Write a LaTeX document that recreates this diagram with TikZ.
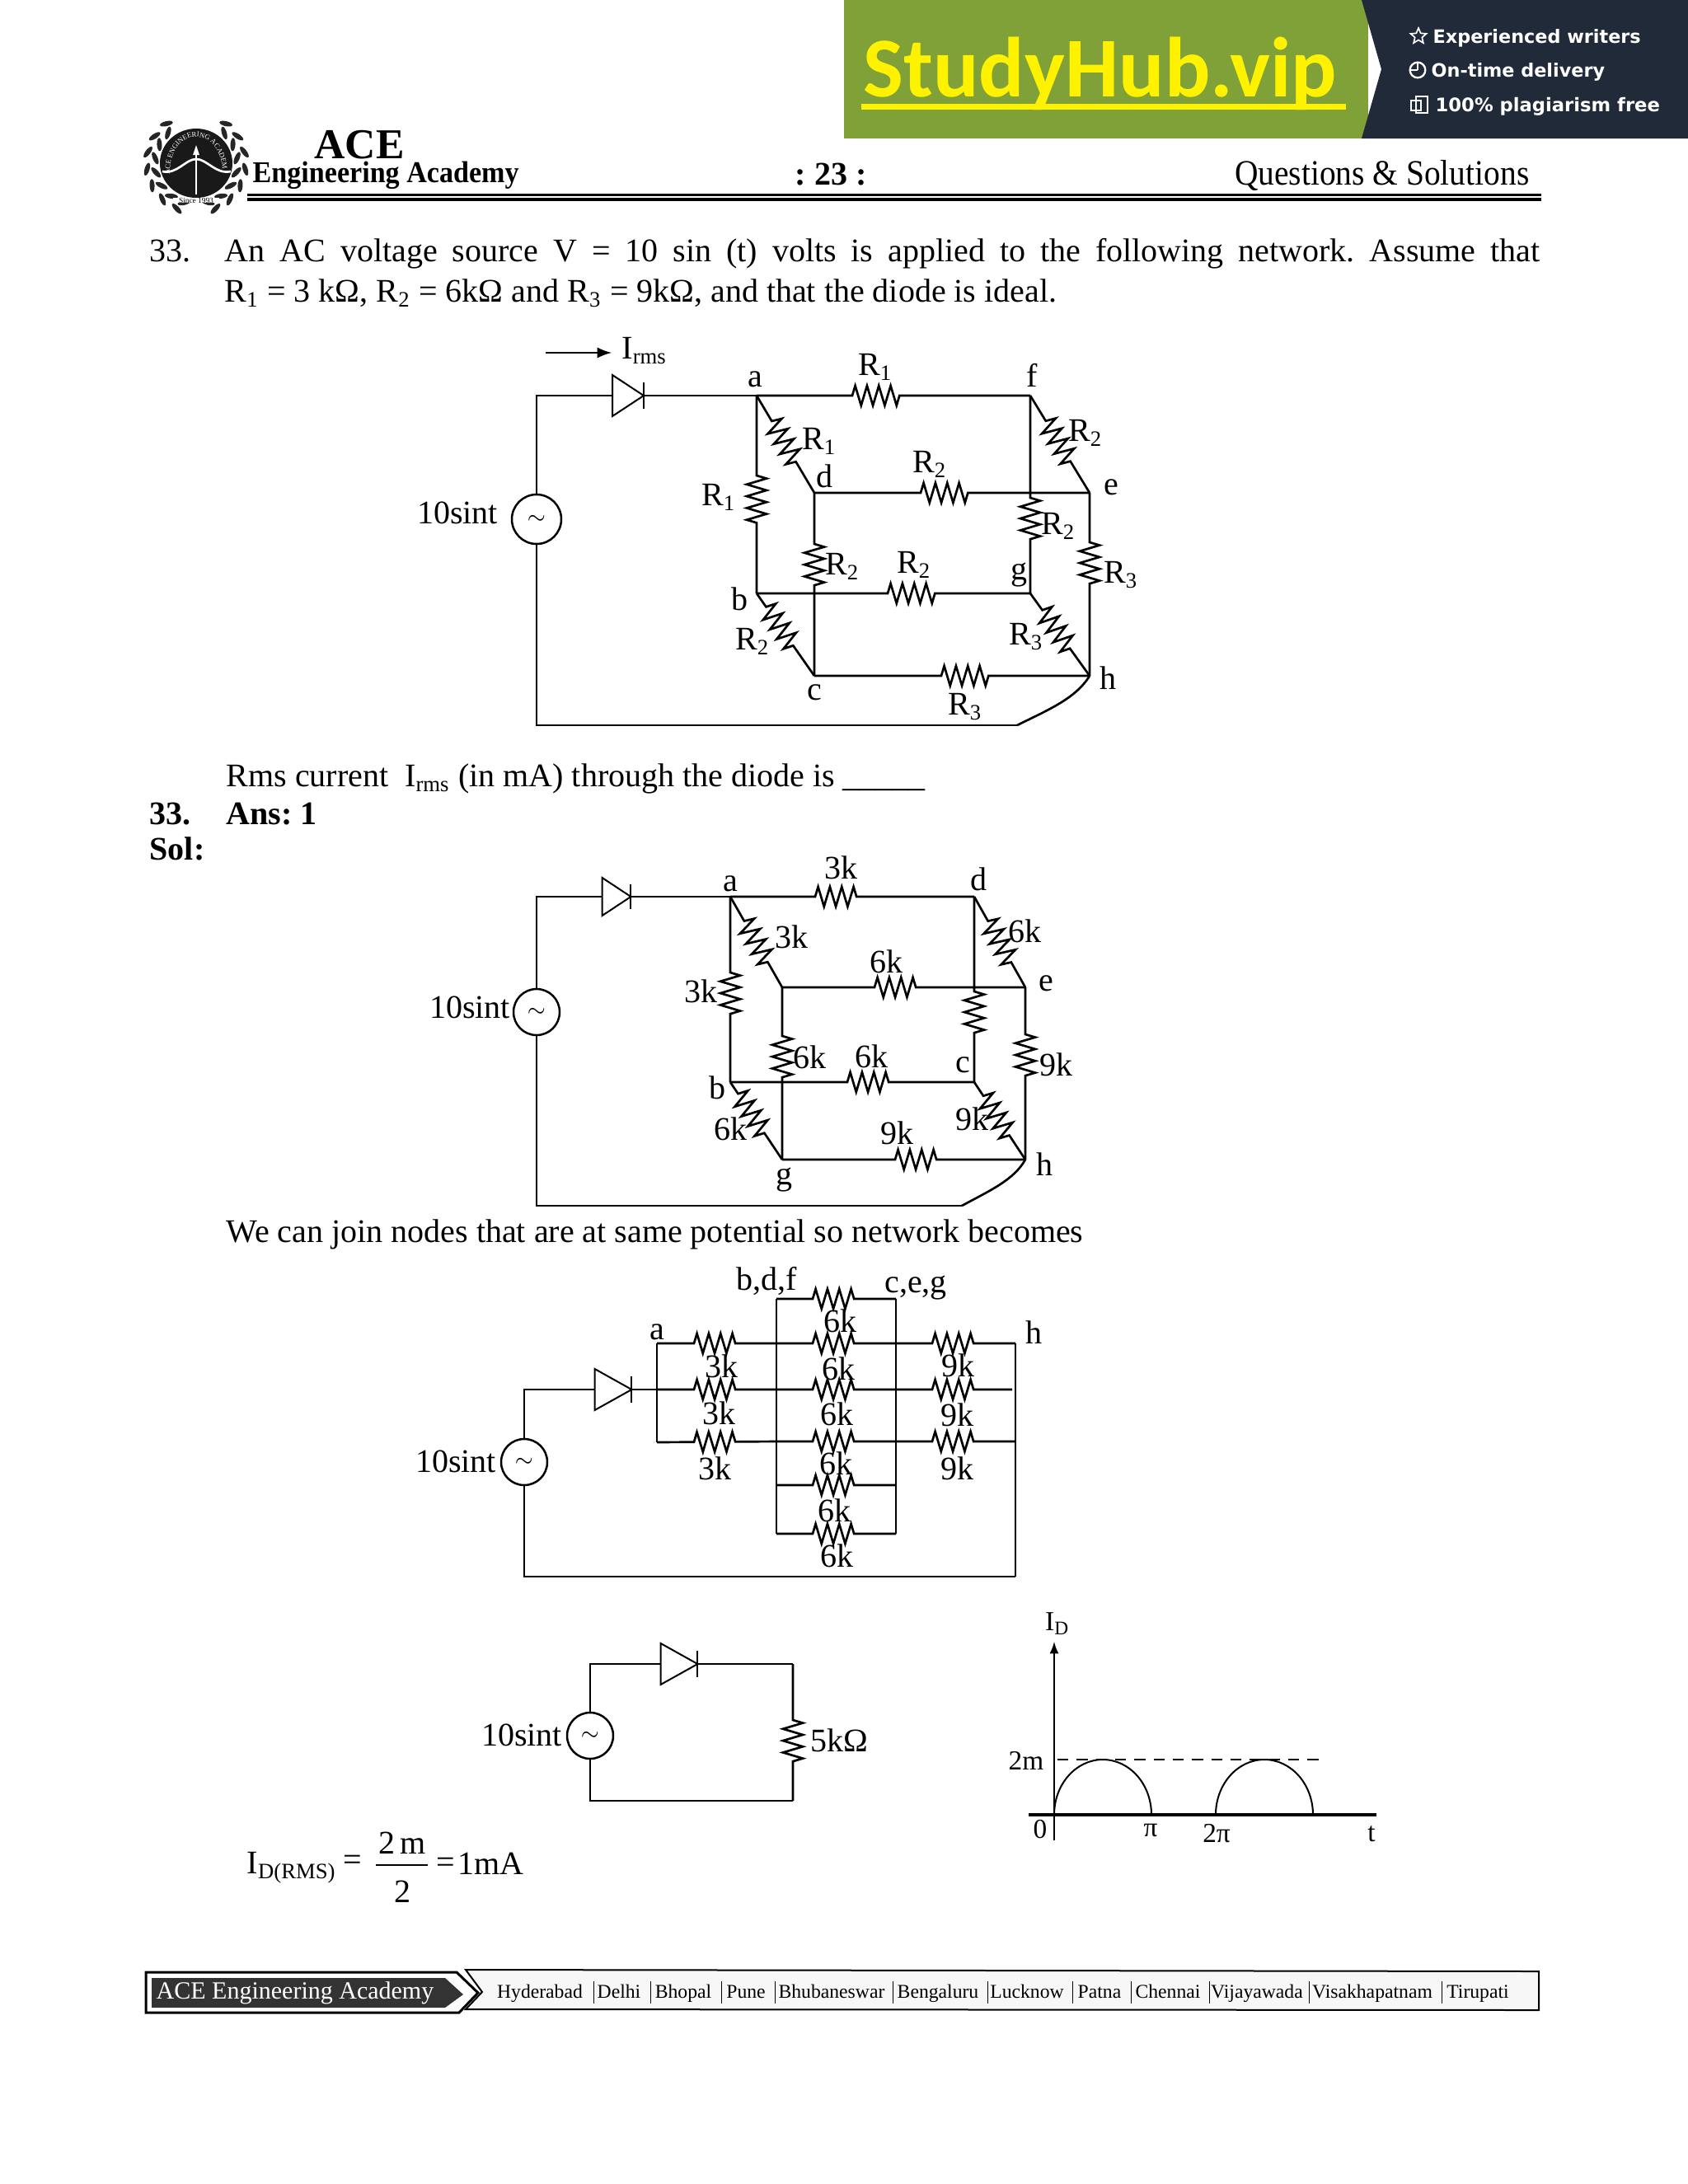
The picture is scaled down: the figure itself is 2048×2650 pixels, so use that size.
\documentclass[tikz,border=0pt]{standalone}
\usepackage{fontspec}
\usepackage{graphicx}
\setmainfont{Liberation Serif}
\newfontfamily\bannerfont{Carlito}
\newfontfamily\sidefont{DejaVu Sans}
\usetikzlibrary{calc,shapes.geometric,decorations.pathmorphing,decorations.text}
\newcommand{\fs}[1]{\fontsize{#1}{#1}\selectfont}
\newcommand{\tld}{\raisebox{-1pt}{\fs{8}$\sim$}}
\definecolor{bannergreen}{RGB}{128,160,56}
\definecolor{bannerdark}{RGB}{33,42,57}
\definecolor{footdark}{RGB}{51,51,51}
\tikzset{
    every node/.style={font=\fs{12}, inner sep=0pt},
    wire/.style={line width=0.8pt},
    res/.style 2 args={wire, decorate, decoration={zigzag, segment length=4.3pt, amplitude=3.6pt, pre length=#1*0.3pt, post length=#2*0.3pt}},
    src/.style={circle, draw, line width=0.75pt, fill=white, minimum size=16.8pt},
    diode/.pic={
        \draw[line width=0.6pt, fill=white] (-20,-25) -- (20,0) -- (-20,25) -- cycle;
        \draw[line width=0.6pt] (20,-16) -- (20,16);
    },
}
\begin{document}
\frenchspacing
\begin{tikzpicture}[x=0.3pt, y=-0.3pt]
    \useasboundingbox (0,0) rectangle (2048,2650);
    \fill[white] (0,0) rectangle (2048,2650);
    % banner
    \fill[bannergreen] (1024,0) rectangle (1660,168);
    \fill[bannerdark] (1652,0) -- (2048,0) -- (2048,168) -- (1652,168) -- (1676,84) -- cycle;
    \node[font=\bannerfont\bfseries\fs{31}, text=yellow, anchor=base west] (study) at (1047,117) {StudyHub.vip};
    \fill[yellow] (1045,126) rectangle (1633,133);
    \node[font=\sidefont\bfseries\fs{6.7}, text=white, anchor=base west] (side1) at (1738,52) {Experienced writers};
    \node[font=\sidefont\bfseries\fs{6.7}, text=white, anchor=base west] (side2) at (1736,93) {On-time delivery};
    \node[font=\sidefont\bfseries\fs{6.8}, text=white, anchor=base west] (side3) at (1741,135) {100\% plagiarism free};
    \node[star, star points=5, star point ratio=2.2, draw=white, line width=0.5pt, minimum size=6pt] (icon1) at (1721,44) {};
    \node[circle, draw=white, line width=0.7pt, minimum size=5.6pt] (icon2) at (1720,85) {};
    \draw[white, line width=0.4pt] (icon2.center) -- (icon2.north);
    \draw[white, line width=0.4pt] (icon2.center) -- (icon2.west);
    \draw[white, line width=0.5pt] (1712,122) rectangle (1724,134);
    \draw[white, line width=0.5pt] (1718,117) rectangle (1732,137);
    % logo
    \begin{scope}[shift={(238,198)}]
        \foreach \t in {107,127,...,227} {
            \fill[black!85, shift={(\t:50)}, rotate=90-\t+30] (0,0) ellipse (8 and 3);
            \fill[black!85, shift={(\t+6:60)}, rotate=90-\t-30] (0,0) ellipse (8 and 3);
            \fill[black!85, shift={(180-\t:50)}, rotate=\t-90-30] (0,0) ellipse (8 and 3);
            \fill[black!85, shift={(174-\t:60)}, rotate=\t-90+30] (0,0) ellipse (8 and 3);
        }
    \end{scope}
    \fill[black!90] (238,198) ellipse (44 and 42);
    \draw[white, line width=0.8pt] (197,208) .. controls (215,212) and (225,193) .. (238,193) .. controls (251,193) and (262,212) .. (280,208);
    \draw[white, line width=0.8pt] (238,180) -- (238,236);
    \fill[white] (238,176) -- (242,188) -- (234,188) -- cycle;
    \path[decorate, decoration={text along path, text color=white, text align=center, text={|\fs{2.6}|ACE ENGINEERING ACADEMY}}] (206,208) .. controls (208,152) and (268,152) .. (270,208);
    \node[font=\fs{2.8}, fill=white, inner xsep=2pt] (since) at (238,243) {Since 1993};
    % header
    \node[font=\bfseries\fs{15.5}] (ace) at (436,176) {ACE};
    \node[font=\bfseries\fs{11}, anchor=west] (eng) at (306,213) {\scalebox{0.93}[1]{Engineering Academy}};
    \node[font=\bfseries\fs{12}] (page) at (1008,212) {: 23 :};
    \node[font=\fs{13}, anchor=east] (qs) at (1856,213) {\scalebox{0.91}[1]{Questions \& Solutions}};
    \fill (300,235) rectangle (1870,238);
    \fill (300,240) rectangle (1870,244);
    % question
    \node[anchor=base west] (qno) at (181,317) {33.};
    \node[anchor=base west] (qa) at (272,317) {\makebox[478.8pt][s]{An AC voltage source V = 10 sin (t) volts is applied to the following network. Assume that}};
    \node[anchor=base west] (qb) at (272,366) {R\textsubscript{1} = 3 kΩ, R\textsubscript{2} = 6kΩ and R\textsubscript{3} = 9kΩ, and that the diode is ideal.};
    % first network
    \coordinate (a1) at (918,480);
    \coordinate (f1) at (1250,480);
    \coordinate (b1) at (918,720);
    \coordinate (d1) at (988,598);
    \coordinate (e1) at (1322,598);
    \coordinate (g1) at (1250,720);
    \coordinate (c1) at (988,820);
    \coordinate (h1) at (1322,820);
    \coordinate (dl1) at (743,480);
    \coordinate (dr1) at (781,480);
    \coordinate (br1) at (1234,880);
    \node[src, minimum size=18pt] (s1) at (651,630) {\tld};
    \draw[wire] (s1.north) |- (dl1);
    \draw[wire] (s1.south) |- (br1);
    \draw[wire] (br1) .. controls (1270,862) and (1305,848) .. (h1);
    \draw[wire] (dr1) -- (a1);
    \pic[xscale=0.95] at (762,480) {diode};
    \draw[res={116}{158}] (a1) -- (f1);
    \draw[res={97}{85}] (a1) -- (b1);
    \draw[res={36}{38}] (a1) -- (d1);
    \draw[res={129}{147}] (d1) -- (e1);
    \draw[res={36}{38}] (f1) -- (e1);
    \draw[res={124}{60}] (f1) -- (g1);
    \draw[res={62}{103}] (d1) -- (c1);
    \draw[res={159}{110}] (b1) -- (g1);
    \draw[res={20}{39}] (b1) -- (c1);
    \draw[res={25}{37}] (g1) -- (h1);
    \draw[res={60}{105}] (e1) -- (h1);
    \draw[res={154}{120}] (c1) -- (h1);
    \coordinate (ia1) at (662,428);
    \coordinate (ia2) at (742,428);
    \draw[wire, -latex] (ia1) -- (ia2);
    \node (irms) at (782,426) {I\textsubscript{rms}};
    \node (v1) at (555,622) {10sint};
    \node (la1) at (916,460) {a};
    \node (lf1) at (1252,455) {f};
    \node (ld1) at (1000,578) {d};
    \node (le1) at (1348,591) {e};
    \node (lg1) at (1236,698) {g};
    \node (lb1) at (897,727) {b};
    \node (lh1) at (1344,823) {h};
    \node (lc1) at (988,840) {c};
    \node (r11) at (1062,445) {R\textsubscript{1}};
    \node (r12) at (994,535) {R\textsubscript{1}};
    \node (r13) at (872,603) {R\textsubscript{1}};
    \node (r21) at (1317,525) {R\textsubscript{2}};
    \node (r22) at (1128,563) {R\textsubscript{2}};
    \node (r23) at (1284,638) {R\textsubscript{2}};
    \node (r24) at (1022,687) {R\textsubscript{2}};
    \node (r25) at (1109,685) {R\textsubscript{2}};
    \node (r26) at (913,778) {R\textsubscript{2}};
    \node (r31) at (1360,698) {R\textsubscript{3}};
    \node (r32) at (1245,773) {R\textsubscript{3}};
    \node (r33) at (1171,858) {R\textsubscript{3}};
    % answer
    \node[anchor=base west] (rq) at (274,954) {Rms current\ \ I\textsubscript{rms} (in mA) through the diode is \_\_\_\_\_};
    \node[anchor=base west, font=\bfseries\fs{12}] (ano) at (181,1000) {33.};
    \node[anchor=base west, font=\bfseries\fs{12}] (ans) at (274,1000) {Ans: 1};
    \node[anchor=base west, font=\bfseries\fs{12}] (sol) at (181,1043) {Sol:};
    % second network
    \coordinate (a2) at (886,1088);
    \coordinate (d2) at (1182,1088);
    \coordinate (b2) at (886,1313);
    \coordinate (m2) at (949,1198);
    \coordinate (e2) at (1244,1198);
    \coordinate (c2) at (1182,1313);
    \coordinate (g2) at (949,1407);
    \coordinate (h2) at (1244,1407);
    \coordinate (dl2) at (731,1088);
    \coordinate (dr2) at (766,1088);
    \coordinate (br2) at (1167,1463);
    \node[src] (s2) at (651,1228) {\tld};
    \draw[wire] (s2.north) |- (dl2);
    \draw[wire] (s2.south) |- (br2);
    \draw[wire] (br2) .. controls (1200,1445) and (1230,1432) .. (h2);
    \draw[wire] (dr2) -- (a2);
    \pic[xscale=0.87, yscale=0.92] at (748,1088) {diode};
    \draw[res={103}{140}] (a2) -- (d2);
    \draw[res={92}{80}] (a2) -- (b2);
    \draw[res={34}{35}] (a2) -- (m2);
    \draw[res={112}{129}] (m2) -- (e2);
    \draw[res={34}{34}] (d2) -- (e2);
    \draw[res={115}{56}] (d2) -- (c2);
    \draw[res={59}{98}] (m2) -- (g2);
    \draw[res={142}{101}] (b2) -- (c2);
    \draw[res={17}{35}] (b2) -- (g2);
    \draw[res={20}{32}] (c2) -- (h2);
    \draw[res={57}{99}] (e2) -- (h2);
    \draw[res={137}{106}] (g2) -- (h2);
    \node (v2) at (570,1222) {10sint};
    \node (la2) at (886,1072) {a};
    \node (ld2) at (1187,1067) {d};
    \node (le2) at (1269,1193) {e};
    \node (lc2) at (1168,1292) {c};
    \node (lb2) at (870,1320) {b};
    \node (lh2) at (1267,1413) {h};
    \node (lg2) at (951,1432) {g};
    \node (k11) at (1020,1053) {3k};
    \node (k12) at (960,1137) {3k};
    \node (k13) at (850,1203) {3k};
    \node (k21) at (1243,1130) {6k};
    \node (k22) at (1075,1167) {6k};
    \node (k23) at (982,1283) {6k};
    \node (k24) at (1057,1282) {6k};
    \node (k25) at (886,1370) {6k};
    \node (k31) at (1281,1292) {9k};
    \node (k32) at (1179,1358) {9k};
    \node (k33) at (1088,1375) {9k};
    \node[anchor=base west] (join) at (274,1507) {We can join nodes that are at same potential so network becomes};
    % third network
    \coordinate (a3t) at (797,1630);
    \coordinate (a3m) at (797,1686);
    \coordinate (a3b) at (797,1750);
    \foreach \i/\y in {0/1576,1/1630,2/1686,3/1749,4/1802,5/1861} {
        \coordinate (l\i) at (942,\y);
        \coordinate (r\i) at (1087,\y);
        \draw[res={44}{47}] (l\i) -- (r\i);
    }
    \coordinate (h3t) at (1232,1630);
    \coordinate (h3m) at (1228,1686);
    \coordinate (h3b) at (1232,1749);
    \coordinate (br3) at (1232,1913);
    \coordinate (dl3) at (721,1686);
    \coordinate (dr3) at (766,1686);
    \node[src] (s3) at (636,1774) {\tld};
    \draw[wire] (s3.north) |- (dl3);
    \draw[wire] (s3.south) |- (br3);
    \draw[wire] (dr3) -- (a3m);
    \pic[xscale=1.12] at (744,1686) {diode};
    \draw[wire] (a3t) -- (a3b);
    \draw[wire] (l0) -- (l5);
    \draw[wire] (r0) -- (r5);
    \draw[wire] (h3t) -- (br3);
    \draw[res={45}{46}] (a3t) -- (l1);
    \draw[res={45}{46}] (a3m) -- (l2);
    \draw[res={45}{46}] (a3b) -- (l3);
    \draw[res={44}{49}] (r1) -- (h3t);
    \draw[res={44}{45}] (r2) -- (h3m);
    \draw[res={44}{49}] (r3) -- (h3b);
    \node (v3) at (553,1773) {10sint};
    \node (la3) at (797,1616) {a};
    \node (lbdf) at (930,1554) {b,d,f};
    \node (lceg) at (1111,1563) {c,e,g};
    \node (lh3) at (1254,1617) {h};
    \foreach \x/\y/\t [count=\i] in {875/1658/3k,872/1715/3k,867/1782/3k,1019/1603/6k,1017/1661/6k,1015/1716/6k,1014/1776/6k,1012/1833/6k,1015/1888/6k,1162/1657/9k,1161/1717/9k,1161/1782/9k} {
        \node (t\i) at (\x,\y) {\t};
    }
    % reduced network
    \coordinate (tl4) at (716,2019);
    \coordinate (tr4) at (962,2019);
    \coordinate (bl4) at (716,2185);
    \coordinate (br4) at (962,2185);
    \coordinate (dl4) at (801,2019);
    \coordinate (dr4) at (846,2019);
    \node[src] (s4) at (716,2106) {\tld};
    \draw[wire] (s4.north) -- (tl4) -- (dl4);
    \draw[wire] (s4.south) -- (bl4) -- (br4);
    \draw[wire] (dr4) -- (tr4);
    \pic[xscale=1.12] at (824,2019) {diode};
    \draw[res={68}{44}] (tr4) -- (br4);
    \node (v4) at (633,2105) {10sint};
    \node (r5k) at (1018,2112) {5kΩ};
    % rms formula
    \node (irm) at (354,2266) {I\textsubscript{D(RMS)}};
    \node (eq1) at (428,2260) {=};
    \node (num) at (488,2236) {2\,m};
    \coordinate (f1l) at (456,2263);
    \coordinate (f1r) at (519,2263);
    \draw[wire] (f1l) -- (f1r);
    \node (den) at (488,2295) {2};
    \node (eq2) at (541,2263) {=};
    \node (rma) at (595,2261) {1mA};
    % current plot
    \coordinate (y0) at (1279,2233);
    \coordinate (y1) at (1279,1992);
    \coordinate (x0) at (1248,2202);
    \coordinate (x1) at (1670,2202);
    \coordinate (p0) at (1283,2135);
    \coordinate (p1) at (1602,2135);
    \draw[line width=0.5pt, -latex] (y0) -- (y1);
    \draw[line width=1pt] (x0) -- (x1);
    \draw[line width=0.7pt, dash pattern=on 4pt off 3pt] (p0) -- (p1);
    \draw[line width=0.6pt] (1279,2202) arc[start angle=180, end angle=360, x radius=59, y radius=67];
    \draw[line width=0.6pt] (1475,2202) arc[start angle=180, end angle=360, x radius=59, y radius=67];
    \node[font=\fs{10}] (id) at (1283,1970) {I\textsubscript{D}};
    \node[font=\fs{10}] (two) at (1245,2136) {2m};
    \node[font=\fs{10}] (zero) at (1262,2220) {0};
    \node[font=\fs{10}] (pi1) at (1396,2221) {π};
    \node[font=\fs{10}] (pi2) at (1476,2225) {2π};
    \node[font=\fs{10}] (tt) at (1664,2225) {t};
    % footer
    \draw[line width=0.9pt, fill=white] (177,2393) -- (554,2393) -- (580,2418) -- (557,2442) -- (177,2442) -- cycle;
    \fill[footdark] (184,2400) -- (540,2400) -- (562,2420) -- (540,2436) -- (184,2436) -- cycle;
    \node[font=\fs{9}, text=white] (acef) at (358,2418) {ACE Engineering Academy};
    \fill[black!3] (565,2390) -- (1867,2392) -- (1867,2439) -- (565,2438) -- (585,2417) -- cycle;
    \draw[line width=0.6pt] (565,2390) -- (1867,2392) -- (1867,2439) -- (565,2438) -- (585,2417) -- cycle;
    \foreach \x/\t [count=\i] in {655/Hyderabad,751/Delhi,829/Bhopal,905/Pune,1009/Bhubaneswar,1138/Bengaluru,1246/Lucknow,1334/Patna,1417/Chennai,1525/Vijayawada,1665/Visakhapatnam,1793/Tirupati} {
        \node[font=\fs{7.1}, anchor=base] (city\i) at (\x,2424) {\t};
    }
    \foreach \x in {720,789,875,940,1083,1198,1301,1372,1467,1588,1749} {
        \draw[line width=0.3pt] (\x,2404) -- (\x,2431);
    }
\end{tikzpicture}
\end{document}
